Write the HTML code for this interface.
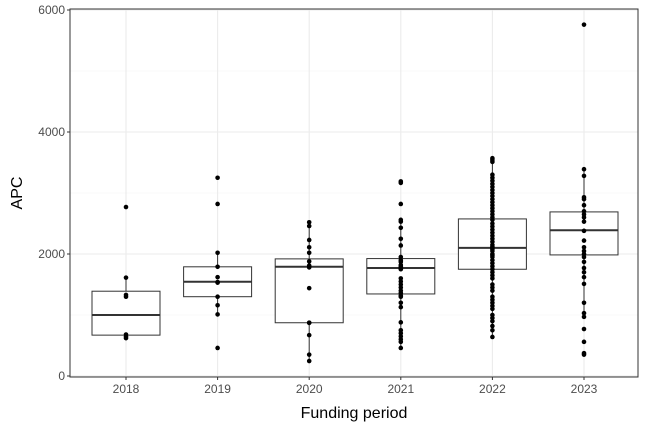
<!DOCTYPE html>
<html><head><meta charset="utf-8"><style>
body{margin:0;background:#fff;}
svg{display:block;font-family:"Liberation Sans",sans-serif;}
</style></head><body>
<svg id="chart" width="648" height="432"></svg>
<script>
const categories=["2018","2019","2020","2021","2022","2023"];
const q1=[670,1300,873,1345,1750,1985];
const medians=[1000,1545,1790,1770,2100,2390];
const q3=[1390,1790,1920,1925,2575,2690];
const whiskerLo=[620,1010,245,460,640,970];
const whiskerHi=[1612,2020,2520,2560,3570,3390];
const points2018=[2770,1612,1330,1300,680,645,620];
const points2019=[3250,2820,2020,1790,1620,1540,1530,1300,1160,1010,460];
const points2020=[2520,2460,2230,2110,2020,1880,1810,1780,1440,875,870,670,350,245];
const points2021=[3190,3165,2820,2560,2530,2430,2250,2140,1950,1900,1870,1820,1800,1780,1760,1750,1600,1550,1500,1450,1400,1360,1320,1300,1200,1130,880,750,700,650,600,560,460];
const points2022=[3570,3540,3510,3300,3250,3200,3150,3100,3050,3000,2950,2900,2850,2800,2750,2700,2650,2600,2560,2500,2450,2400,2350,2300,2250,2200,2150,2120,2100,2080,2050,2000,1980,1950,1900,1850,1800,1750,1700,1650,1600,1500,1450,1400,1300,1250,1200,1150,1100,1000,950,900,820,750,640];
const points2023=[5760,3390,3280,2930,2900,2800,2700,2650,2600,2530,2380,2220,2110,2050,2000,1950,1870,1770,1700,1620,1510,1200,1030,970,770,560,375,350];
const allPoints=[points2018,points2019,points2020,points2021,points2022,points2023];
const yTicks=[0,2000,4000,6000];
const yMinor=[1000,3000,5000];

const NS="http://www.w3.org/2000/svg";
const svg=document.getElementById("chart");
const L=70,R=638,T=9,B=377;
const y=v=>376-v*0.061;
const step=(R-L)/6.54;
const x=i=>126+i*91.6;
function mk(tag,attrs,parent){const e=document.createElementNS(NS,tag);for(const k in attrs)e.setAttribute(k,attrs[k]);(parent||svg).appendChild(e);return e;}

const grid=mk("g",{});


yMinor.forEach(v=>{const l=mk("line",{x1:L,x2:R,y1:y(v),y2:y(v),stroke:"#f2f2f2","stroke-width":0.6},grid);

});
yTicks.forEach(v=>{const l=mk("line",{x1:L,x2:R,y1:y(v),y2:y(v),stroke:"#ebebeb","stroke-width":1.1},grid);

});
categories.forEach((c,i)=>{const l=mk("line",{x1:x(i),x2:x(i),y1:T,y2:B,stroke:"#ebebeb","stroke-width":1.1},grid);

});

const hw=34;
categories.forEach((c,i)=>{
  const g=mk("g",{});
  
  
  mk("line",{x1:x(i),x2:x(i),y1:y(whiskerHi[i]),y2:y(q3[i]),stroke:"#333","stroke-width":1},g);
  mk("line",{x1:x(i),x2:x(i),y1:y(q1[i]),y2:y(whiskerLo[i]),stroke:"#333","stroke-width":1},g);
  mk("rect",{x:x(i)-hw,y:y(q3[i]),width:hw*2,height:y(q1[i])-y(q3[i]),fill:"#fff",stroke:"#333","stroke-width":1},g);
  mk("line",{x1:x(i)-hw,x2:x(i)+hw,y1:y(medians[i]),y2:y(medians[i]),stroke:"#333","stroke-width":2},g);
  allPoints[i].forEach(v=>{const p=mk("circle",{cx:x(i),cy:y(v),r:2.3,fill:"#000"},g);
  
  });
});

const border=mk("rect",{x:L,y:T,width:R-L,height:B-T,fill:"none",stroke:"#333","stroke-width":1});



yTicks.forEach(v=>{
  mk("line",{x1:L-3,x2:L,y1:y(v),y2:y(v),stroke:"#333"});
  const t=mk("text",{x:L-5,y:y(v)+4,"text-anchor":"end","font-size":12,fill:"#4d4d4d"});
  t.textContent=v;
  
  
});
categories.forEach((c,i)=>{
  mk("line",{x1:x(i),x2:x(i),y1:B,y2:B+3,stroke:"#333"});
  const t=mk("text",{x:x(i),y:B+16,"text-anchor":"middle","font-size":12,fill:"#4d4d4d"});
  t.textContent=c;
  
  
});
const xt=mk("text",{x:(L+R)/2,y:418,"text-anchor":"middle","font-size":16,fill:"#000"});
xt.textContent="Funding period";


const yt=mk("text",{x:0,y:0,"text-anchor":"middle","font-size":16,fill:"#000",transform:"translate(22,193) rotate(-90)"});
yt.textContent="APC";


</script>
</body></html>
